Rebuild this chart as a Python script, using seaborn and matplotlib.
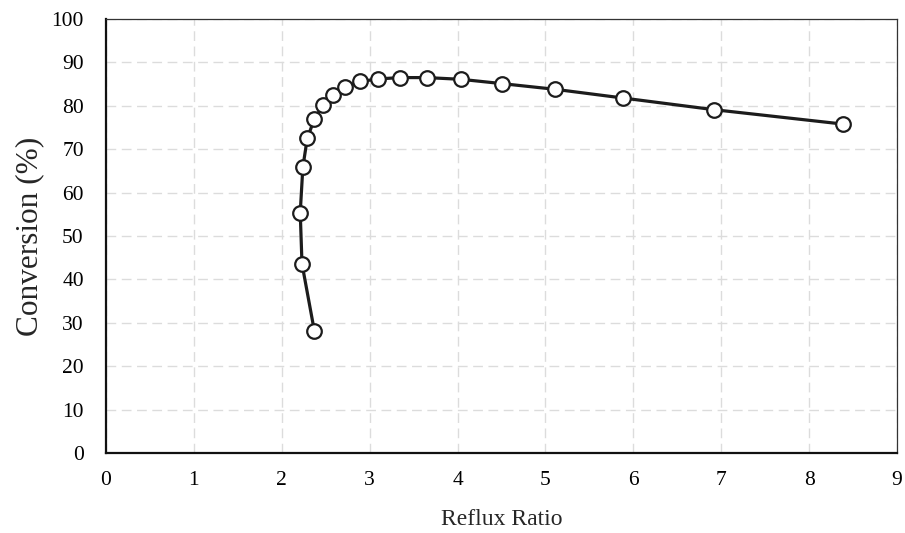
import matplotlib
matplotlib.use('Agg')
import matplotlib.pyplot as plt
import seaborn as sns
import pandas as pd

# values
reflux_ratio = [2.37, 2.23, 2.21, 2.24, 2.29, 2.37, 2.47, 2.58, 2.72, 2.89,
                3.10, 3.35, 3.65, 4.04, 4.51, 5.11, 5.88, 6.92, 8.38]
conversion = [28.2, 43.6, 55.4, 65.9, 72.5, 76.9, 80.2, 82.6, 84.3, 85.6,
              86.2, 86.5, 86.5, 86.1, 85.1, 83.8, 81.8, 79.1, 75.8]

x_ticks = list(range(0, 10))
y_ticks = list(range(0, 101, 10))

data = pd.DataFrame({'reflux': reflux_ratio, 'conversion': conversion})

sns.set_style('white')
plt.rcParams['font.family'] = ['Liberation Serif', 'DejaVu Serif']

fig = plt.figure(figsize=(9.05, 5.33), dpi=100)
ax = fig.add_axes([106 / 905, 80 / 533, 791 / 905, 434 / 533])

sns.lineplot(data=data, x='reflux', y='conversion', sort=False, estimator=None,
             color='#1c1c1c', linewidth=2.3, marker='o', markersize=10.5,
             markerfacecolor='white', markeredgecolor='#1c1c1c',
             markeredgewidth=1.6, ax=ax, zorder=3)

ax.set_xlim(0, 9)
ax.set_ylim(0, 100)
ax.set_xticks(x_ticks)
ax.set_yticks(y_ticks)
ax.tick_params(axis='both', length=0, labelsize=15.5, colors='black')
ax.tick_params(axis='x', pad=13)
ax.tick_params(axis='y', pad=16)

ax.grid(True, color='#dcdcdc', linewidth=1.0, linestyle=(0, (7, 4)))
ax.set_axisbelow(True)

for side in ['left', 'bottom']:
    ax.spines[side].set_color('#111111')
    ax.spines[side].set_linewidth(1.6)
for side in ['top', 'right']:
    ax.spines[side].set_color('#333333')
    ax.spines[side].set_linewidth(0.9)

ax.set_xlabel('Reflux Ratio', fontsize=17)
ax.set_ylabel('Conversion (%)', fontsize=22.5)
ax.xaxis.set_label_coords(0.5, -0.128)
ax.yaxis.set_label_coords(-0.078, 0.5)

plt.savefig('out.png', dpi=100)
